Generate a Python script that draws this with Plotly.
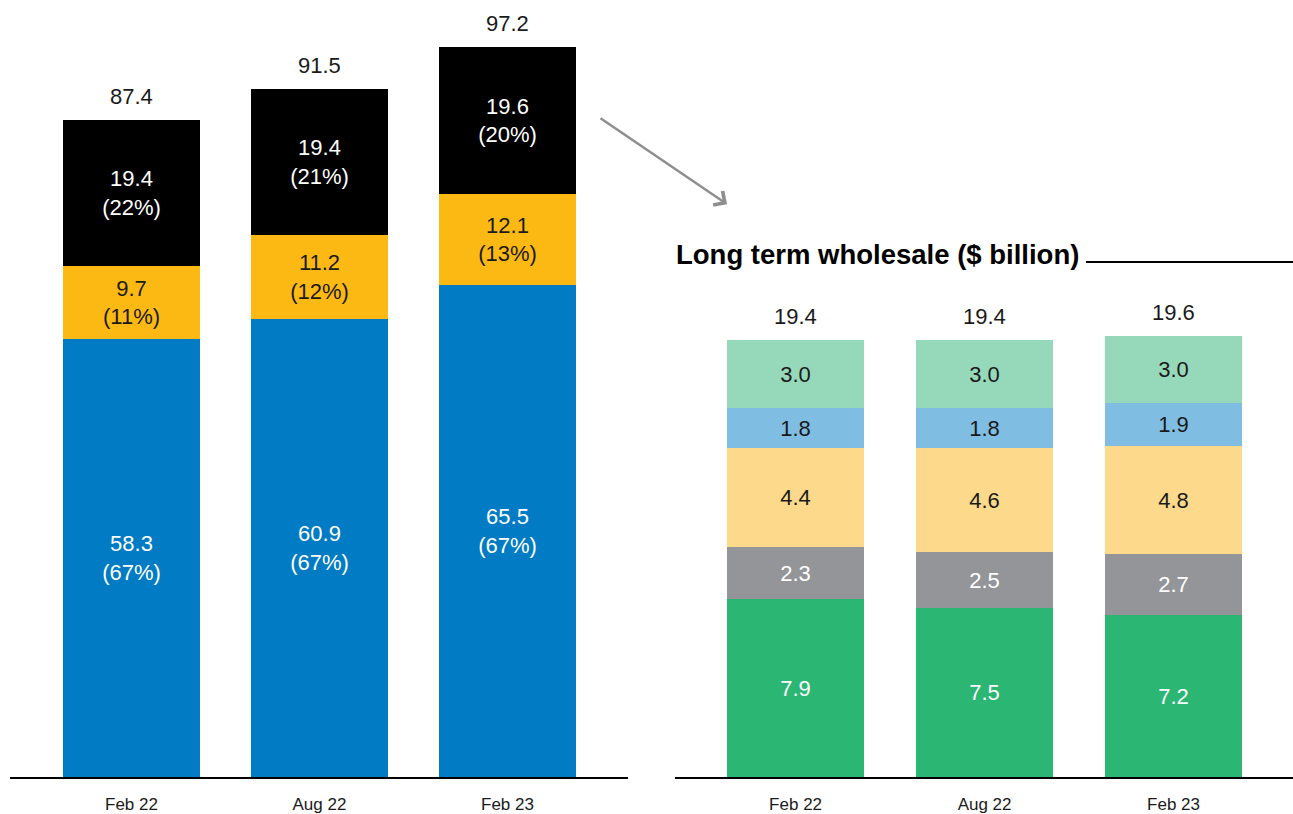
import plotly.graph_objects as go

categories = ["Feb 22", "Aug 22", "Feb 23"]

# Left chart (total, $ billion)
left_blue = [58.3, 60.9, 65.5]
left_blue_pct = [67, 67, 67]
left_yellow = [9.7, 11.2, 12.1]
left_yellow_pct = [11, 12, 13]
left_black = [19.4, 19.4, 19.6]
left_black_pct = [22, 21, 20]
left_totals = [87.4, 91.5, 97.2]

# Right chart: Long term wholesale ($ billion)
rt_green = [7.9, 7.5, 7.2]
rt_grey = [2.3, 2.5, 2.7]
rt_yellow = [4.4, 4.6, 4.8]
rt_blue = [1.8, 1.8, 1.9]
rt_lightgreen = [3.0, 3.0, 3.0]
rt_totals = [19.4, 19.4, 19.6]

title_right = "Long term wholesale ($ billion)"

FONT = "Liberation Sans, Arial, sans-serif"
W, H = 1293, 814
MB = 34
PH = H - MB  # plot-area height in pixels


def py(ypx):
    return 1 - ypx / PH


fig = go.Figure()

def add_seg(vals, color, tcolor, xa, ya, pct=None, width=0.73, name=""):
    if pct is not None:
        text = [f"{v:.1f}<br>({p}%)" for v, p in zip(vals, pct)]
    else:
        text = [f"{v:.1f}" for v in vals]
    fig.add_trace(go.Bar(
        x=categories, y=vals, name=name, marker=dict(color=color, line=dict(width=0)),
        width=width, text=text, textposition="inside", insidetextanchor="middle",
        textangle=0, constraintext="none",
        textfont=dict(family=FONT, size=22, color=tcolor),
        xaxis=xa, yaxis=ya, hoverinfo="skip", showlegend=False,
    ))

add_seg(left_blue, "#017BC4", "#FFFFFF", "x", "y", left_blue_pct, 0.729, "Segment A")
add_seg(left_yellow, "#FDB913", "#1A1A1A", "x", "y", left_yellow_pct, 0.729, "Segment B")
add_seg(left_black, "#000000", "#FFFFFF", "x", "y", left_black_pct, 0.729, "Long term wholesale")

add_seg(rt_green, "#2BB673", "#FFFFFF", "x2", "y2", None, 0.725, "LT 1")
add_seg(rt_grey, "#939598", "#FFFFFF", "x2", "y2", None, 0.725, "LT 2")
add_seg(rt_yellow, "#FDDA8B", "#1A1A1A", "x2", "y2", None, 0.725, "LT 3")
add_seg(rt_blue, "#80BDE2", "#1A1A1A", "x2", "y2", None, 0.725, "LT 4")
add_seg(rt_lightgreen, "#96D9BA", "#1A1A1A", "x2", "y2", None, 0.725, "LT 5")

annotations = []
for c, t in zip(categories, left_totals):
    annotations.append(dict(x=c, y=t, xref="x", yref="y", text=f"{t:.1f}", showarrow=False,
                            yanchor="bottom", yshift=9,
                            font=dict(family=FONT, size=22, color="#1A1A1A")))
for c, t in zip(categories, rt_totals):
    annotations.append(dict(x=c, y=t, xref="x2", yref="y2", text=f"{t:.1f}", showarrow=False,
                            yanchor="bottom", yshift=9,
                            font=dict(family=FONT, size=22, color="#1A1A1A")))

# Title of right chart
annotations.append(dict(x=674 / W, y=py(255), xref="paper", yref="paper", xanchor="left",
                        yanchor="middle", text=f"<b>{title_right}</b>", showarrow=False,
                        font=dict(family=FONT, size=27.5, color="#000000")))

# Arrow
annotations.append(dict(x=727 / W, y=py(205), xref="paper", yref="paper",
                        ax=-128, ay=-87, axref="pixel", ayref="pixel", text="",
                        showarrow=True, arrowhead=4, arrowsize=1.3, arrowwidth=2.5,
                        arrowcolor="#8E8E8E"))

shapes = [dict(type="line", xref="paper", yref="paper", x0=1086 / W, x1=1.0,
               y0=py(263), y1=py(263), line=dict(color="#000000", width=2))]

axis_common = dict(showgrid=False, zeroline=False, ticks="", showline=True,
                   linecolor="#000000", linewidth=2,
                   tickfont=dict(family=FONT, size=17, color="#1A1A1A"), ticklabelstandoff=11)

fig.update_layout(
    width=W, height=H, margin=dict(l=0, r=0, t=0, b=MB),
    paper_bgcolor="#FFFFFF", plot_bgcolor="#FFFFFF",
    barmode="stack", bargap=0,
    xaxis=dict(domain=[10 / W, 628 / W], range=[-0.646, 2.641], anchor="y", **axis_common),
    xaxis2=dict(domain=[675 / W, 1.0], range=[-0.638, 2.632], anchor="y2", **axis_common),
    yaxis=dict(range=[0, 103.4], visible=False, domain=[0, 1]),
    yaxis2=dict(range=[0, 34.5], visible=False, domain=[0, 1], anchor="x2"),
    annotations=annotations, shapes=shapes, showlegend=False,
    font=dict(family=FONT),
)

fig.write_html("out.html", config={"displayModeBar": False},
               post_script="document.body.style.margin='0';document.body.style.overflow='hidden';")
